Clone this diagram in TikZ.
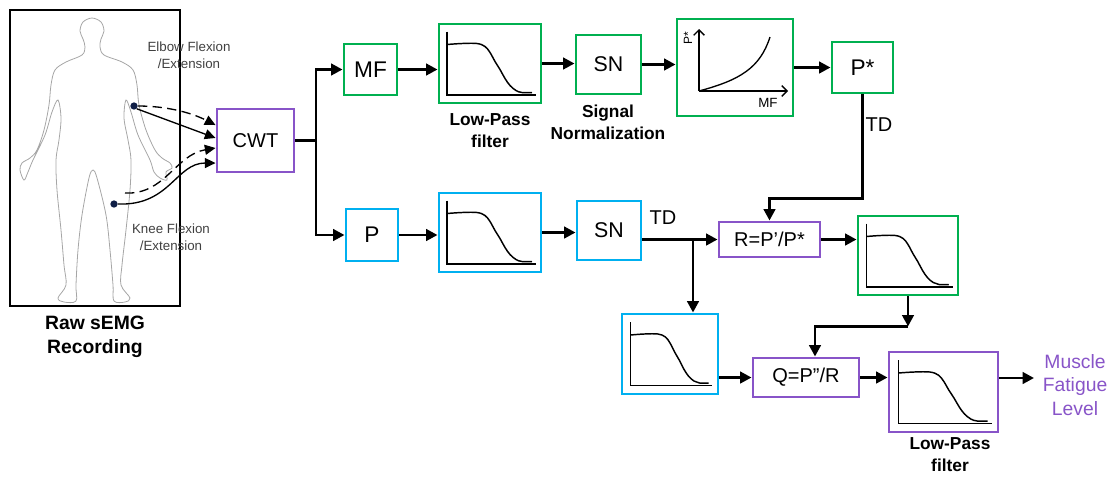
\documentclass[tikz,border=0pt]{standalone}
\usepackage{fontspec}
\setmainfont{Liberation Sans}
\usetikzlibrary{arrows.meta,calc,positioning}
\definecolor{boxgreen}{RGB}{0,176,80}
\definecolor{boxblue}{RGB}{0,176,240}
\definecolor{boxpurple}{RGB}{136,84,200}
\definecolor{electrode}{RGB}{15,30,70}

% filter response sketch drawn inside a box node
\newcommand{\lowpass}[2][1]{%
  \begin{scope}[shift={(#2.center)}, xscale=#1, line width=1.1pt]
    \draw (-43,-32) -- (-43,31.5) -- (46,31.5);
    \draw plot[smooth, tension=0.6] coordinates {(-43,-19) (-28,-20) (-13,-20) (-5,-17) (0,-11) (5,-2) (10,6) (15,15) (20,22) (26,27) (32,29) (42,29)};
  \end{scope}}

\begin{document}
\begin{tikzpicture}[x=0.75pt,y=-0.75pt,
  blk/.style={draw, line width=2.2pt, fill=white, inner sep=0pt, font=\fontsize{17}{20}\selectfont},
  gbox/.style={blk, draw=boxgreen},
  bluebox/.style={blk, draw=boxblue},
  pbox/.style={blk, draw=boxpurple},
  flow/.style={line width=2.2pt, -{Triangle[length=8.5pt,width=8.5pt]}},
  lead/.style={line width=1pt, -{Triangle[length=8pt,width=7.5pt]}},
  lbl/.style={font=\fontsize{13}{16.5}\selectfont\bfseries, align=center},
  sidenote/.style={font=\fontsize{10}{13}\selectfont, text=black!75, align=center},
]
\useasboundingbox (0,0) rectangle (1112,476);

% subject and electrode sites
\draw[line width=0.9pt] (10,10) rectangle (180,306);
\draw[black!35, line width=0.6pt] plot[smooth cycle, tension=0.55] coordinates {
  (92,18) (101,22) (104,31) (101,39) (100,47) (104,55) (122,62) (133,70)
  (137,85) (139,105) (146,130) (155,150) (162,158) (170,163) (172,168)
  (166,172) (167,180) (160,178) (154,172) (150,160) (138,135) (131,112)
  (126,100) (124,118) (128,140) (131,160) (130,190) (126,230) (122,265)
  (121,285) (130,298) (125,302) (114,301) (113,285) (110,250) (106,215)
  (97,178) (93,170) (89,178) (82,215) (78,250) (76,285) (76,301) (64,302)
  (58,298) (66,285) (64,265) (61,230) (57,190) (56,160) (59,140) (61,118)
  (58,100) (52,112) (45,135) (33,160) (28,172) (24,180) (20,170) (22,163)
  (30,158) (37,150) (44,130) (49,105) (51,85) (55,70) (66,62) (82,55)
  (85,47) (83,39) (80,31) (83,22)};
\node[circle, fill=electrode, inner sep=0pt, minimum size=5.5pt] (elbow) at (134,106) {};
\node[circle, fill=electrode, inner sep=0pt, minimum size=5.5pt] (knee) at (114,204) {};
\coordinate (kneestart) at (125,193);
\node[sidenote] (elbowlbl) at (189,55) {Elbow Flexion\\/Extension};
\node[sidenote] (kneelbl) at (171,237) {Knee Flexion\\/Extension};
\node[lbl, font=\fontsize{14.5}{18}\selectfont\bfseries] (rawlbl) at (95,337) {Raw sEMG\\Recording};

% wavelet block
\node[pbox, minimum width=57.75pt, minimum height=47.25pt, font=\fontsize{15}{18}\selectfont] (cwt) at (255.5,140.5) {CWT};
\draw[lead, dash pattern=on 7pt off 4pt] (elbow.east) .. controls (165,106) and (190,112) .. ([yshift=11.6pt]cwt.west);
\draw[lead] (elbow.south east) -- ([yshift=1.9pt]cwt.west);
\draw[lead, dash pattern=on 7pt off 4pt] (kneestart) .. controls (165,195) and (175,155) .. ([yshift=-5.6pt]cwt.west);
\draw[lead] (knee.east) .. controls (170,206) and (176,163) .. ([yshift=-16.9pt]cwt.west);

% upper branch: median frequency
\node[gbox, minimum width=39.75pt, minimum height=38.25pt] (mf) at (370.5,69.5) {MF};
\node[gbox, minimum width=76.5pt, minimum height=59.25pt] (lpf1) at (490,63.5) {};
\lowpass{lpf1}
\node[lbl] (lpf1lbl) at (490,131) {Low-Pass\\filter};
\node[gbox, minimum width=48.75pt, minimum height=44.25pt, font=\fontsize{16}{19}\selectfont] (sn1) at (608.5,64.5) {SN};
\node[lbl] (sn1lbl) at (608,122.5) {Signal\\Normalization};
\node[gbox, minimum width=87pt, minimum height=72.75pt] (graph) at (735,67.5) {};
\draw[line width=1pt, -{Straight Barb[length=4pt,width=8pt]}] (699,91) -- (699,29);
\draw[line width=1pt, -{Straight Barb[length=4pt,width=8pt]}] (699,91) -- (788,91);
\draw[line width=1pt] (699,91) .. controls (740,80) and (760,68) .. (770,37);
\node[rotate=90, font=\fontsize{9}{10}\selectfont] (pstaraxis) at (688,38) {P*};
\node[font=\fontsize{10}{12}\selectfont] (mfaxis) at (768,103) {MF};
\node[gbox, minimum width=45.75pt, minimum height=38.25pt] (pstar) at (862.5,67.5) {P*};
\node[font=\fontsize{15}{18}\selectfont] (td1) at (879,125) {TD};

% lower branch: power
\node[bluebox, minimum width=39pt, minimum height=39pt] (p) at (372,235) {P};
\node[bluebox, minimum width=76.5pt, minimum height=59.25pt] (lpf2) at (490,232.5) {};
\lowpass{lpf2}
\node[bluebox, minimum width=48pt, minimum height=44.25pt, font=\fontsize{16}{19}\selectfont] (sn2) at (609,230.5) {SN};
\node[font=\fontsize{15}{18}\selectfont] (td2) at (663,218) {TD};
\node[pbox, minimum width=75.75pt, minimum height=26.25pt, font=\fontsize{15}{18}\selectfont] (r) at (769.5,239.5) {R=P'/P*};
\node[gbox, minimum width=75pt, minimum height=59.25pt] (lpf3) at (908,255.5) {};
\lowpass[0.97]{lpf3}
\node[bluebox, minimum width=72pt, minimum height=60pt] (ll) at (670,354) {};
\lowpass[0.92]{ll}
\node[pbox, minimum width=79.5pt, minimum height=29.25pt, font=\fontsize{15}{18}\selectfont] (q) at (806,377.5) {Q=P''/R};
\node[pbox, minimum width=81.75pt, minimum height=60pt] (lpf4) at (943.5,392) {};
\lowpass[1.05]{lpf4}
\node[lbl] (lpf4lbl) at (950,455) {Low-Pass\\filter};
\node[text=boxpurple, font=\fontsize{14.5}{17.5}\selectfont, align=center] (fatigue) at (1075,385) {Muscle\\Fatigue\\Level};

% connections
\coordinate (split) at (316,140.5);
\draw[line width=2.2pt] (cwt.east) -- (split);
\draw[flow] (split) |- (mf.west);
\draw[flow] (split) |- (p.west);
\draw[flow] (mf.east) -- (mf.east -| lpf1.west);
\draw[flow] (lpf1.east) -- (lpf1.east -| sn1.west);
\draw[flow] (sn1.east) -- (sn1.east -| graph.west);
\draw[flow] (graph.east) -- (graph.east -| pstar.west);
\draw[flow] (pstar.south) |- ($(r.north)+(0,-22)$) -- (r.north);
\draw[flow] (p.east) -- (p.east -| lpf2.west);
\draw[flow] (lpf2.east) -- (lpf2.east -| sn2.west);
\coordinate (tdsplit) at (693,239.5);
\draw[flow] (sn2.east |- r.west) -- (r.west);
\draw[flow] (tdsplit) -- (tdsplit |- ll.north);
\draw[flow] (r.east) -- (r.east -| lpf3.west);
\coordinate (qbend) at ($(lpf3.south)+(0,30)$);
\draw[flow] (lpf3.south) -- (qbend);
\draw[flow] (qbend) -| ($(q.north)+(9,0)$);
\draw[flow] (ll.east |- q.west) -- (q.west);
\draw[flow] (q.east) -- (q.east -| lpf4.west);
\coordinate (fatin) at ([yshift=10.5pt]lpf4.east);
\draw[flow, shorten >=3pt] (fatin) -- (fatin -| fatigue.west);

\end{tikzpicture}
\end{document}
